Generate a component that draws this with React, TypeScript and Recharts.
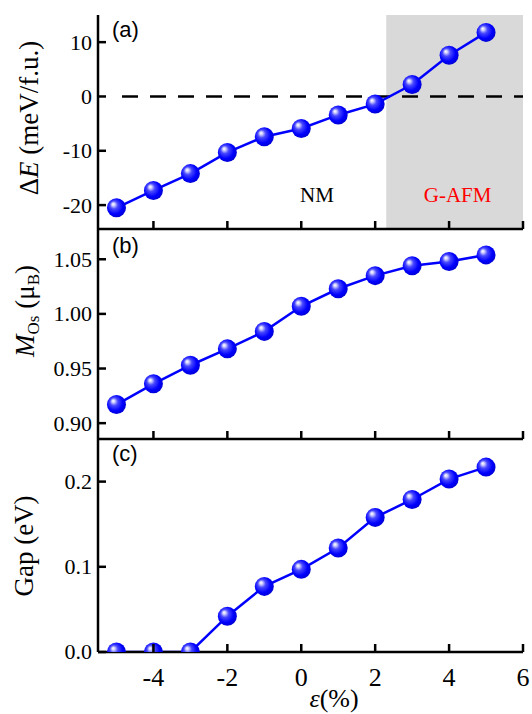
import React from 'react';
import { LineChart, Line, XAxis, YAxis, ReferenceArea, ReferenceLine } from 'recharts';

// ---- data ----
const strain = [-5, -4, -3, -2, -1, 0, 1, 2, 3, 4, 5];
const deltaE = [-20.5, -17.3, -14.2, -10.3, -7.4, -5.9, -3.4, -1.4, 2.2, 7.6, 11.8];
const mOs = [0.917, 0.936, 0.953, 0.968, 0.984, 1.007, 1.023, 1.035, 1.044, 1.048, 1.054];
const gap = [0, 0, 0, 0.042, 0.077, 0.097, 0.122, 0.158, 0.179, 0.203, 0.217];
const xTicks = [-4, -2, 0, 2, 4, 6];
const yTicksA = [-20, -10, 0, 10];
const yTicksB = [0.9, 0.95, 1.0, 1.05];
const yTicksC = [0.0, 0.1, 0.2];
const xDomain = [-5.5, 6];
const yDomainA = [-24.4, 15];
const yDomainB = [0.8855, 1.0777];
const yDomainC = [0, 0.25];
const afmStart = 2.3;
const zeroLineStart = -4.85;

const dataA = strain.map((x, i) => ({ x, v: deltaE[i] }));
const dataB = strain.map((x, i) => ({ x, v: mOs[i] }));
const dataC = strain.map((x, i) => ({ x, v: gap[i] }));

const SERIF = '"Liberation Serif", "Times New Roman", Times, serif';
const SANS = '"Liberation Sans", Arial, Helvetica, sans-serif';
const W = 532;
const LEFT = 98;
const RIGHT_M = 9;
const TICK_LEN = 8;
const Y_GAP = 6;
const SW = 2.5;

const YTick = (props: any) => {
  const { x, y, payload, fmt } = props;
  const edge = x + Y_GAP;
  return (
    <g>
      <line x1={edge} x2={edge + TICK_LEN} y1={y} y2={y} stroke="#000" strokeWidth={SW} />
      <text x={x} y={y} dy="0.34em" textAnchor="end" fontFamily={SERIF} style={{ fontFamily: SERIF }} fontSize={22} fill="#000">
        {fmt(payload.value)}
      </text>
    </g>
  );
};

const XTick = (props: any) => {
  const { x, y, payload, showLabel } = props;
  return (
    <g>
      <line x1={x} x2={x} y1={y} y2={y - TICK_LEN} stroke="#000" strokeWidth={SW} />
      {showLabel ? (
        <text x={x} y={y} dy={34} textAnchor="middle" fontFamily={SERIF} style={{ fontFamily: SERIF }} fontSize={26} fill="#000">
          {payload.value}
        </text>
      ) : null}
    </g>
  );
};

const Ball = (id: string) => (props: any) => {
  const { cx, cy, index } = props;
  if (cx == null || cy == null) return <g key={`n-${index}`} />;
  return <circle key={`d-${index}`} cx={cx} cy={cy} r={9.5} fill={`url(#${id})`} />;
};

const Grad = ({ id }: { id: string }) => (
  <defs>
    <radialGradient id={id} cx="45%" cy="45%" r="60%" fx="32%" fy="30%">
      <stop offset="0" stopColor="#ffffff" />
      <stop offset="0.12" stopColor="#d6d6ff" />
      <stop offset="0.35" stopColor="#4848ff" />
      <stop offset="0.7" stopColor="#0000ff" />
      <stop offset="1" stopColor="#0000cc" />
    </radialGradient>
  </defs>
);

const frameAxes = (yd: number[]) => [
  <XAxis key="tx" xAxisId="top" orientation="top" type="number" domain={xDomain} height={0}
    tick={false} tickLine={false} axisLine={{ stroke: '#000', strokeWidth: SW }} />,
  <YAxis key="ry" yAxisId="r" orientation="right" type="number" domain={yd} width={0}
    tick={false} tickLine={false} axisLine={{ stroke: '#000', strokeWidth: SW }} />,
];

const PanelLabel = ({ y, t }: { y: number; t: string }) => (
  <text x={112} y={y} fontFamily={SANS} style={{ fontFamily: SANS }} fontSize={22} fill="#000">{t}</text>
);

const AfmLabel = (props: any) => {
  const vb = props.viewBox || {};
  return (
    <text x={vb.x + vb.width / 2 + 3} y={vb.y + vb.height - 27} textAnchor="middle"
      fontFamily={SERIF} style={{ fontFamily: SERIF }} fontSize={21} fill="#ff0000">
      G-AFM
    </text>
  );
};

export default function App() {
  return (
    <div style={{ position: 'absolute', left: 0, top: 0, width: W, height: 714, background: '#fff' }}>
      {/* Panel (a) */}
      <div style={{ position: 'absolute', left: 0, top: 0 }}>
        <LineChart width={W} height={240} data={dataA} margin={{ top: 15, right: RIGHT_M, bottom: 0, left: 0 }}>
          <Grad id="ballA" />
          <ReferenceArea x1={afmStart} x2={xDomain[1]} y1={yDomainA[0]} y2={yDomainA[1]} fill="#d9d9d9" fillOpacity={1}
            stroke="none" zIndex={-100} label={<AfmLabel />} />
          <ReferenceLine segment={[{ x: zeroLineStart, y: 0 }, { x: xDomain[1], y: 0 }]} stroke="#000" strokeWidth={SW}
            strokeDasharray="16 12" />
          <XAxis dataKey="x" type="number" domain={xDomain} ticks={xTicks} height={11} tickSize={0} tickMargin={0}
            axisLine={{ stroke: '#000', strokeWidth: SW }} tickLine={false} interval={0}
            tick={(p: any) => <XTick {...p} showLabel={false} />} />
          <YAxis type="number" domain={yDomainA} ticks={yTicksA} width={LEFT} tickSize={0} tickMargin={Y_GAP}
            axisLine={{ stroke: '#000', strokeWidth: SW }} tickLine={false} interval={0}
            tick={(p: any) => <YTick {...p} fmt={(v: number) => String(v)} />} />
          {frameAxes(yDomainA)}
          <Line dataKey="v" type="linear" stroke="#0000ff" strokeWidth={2.5} dot={Ball('ballA')} activeDot={false} isAnimationActive={false} />
          <PanelLabel y={37} t="(a)" />
          <text x={317} y={202} textAnchor="middle" fontFamily={SERIF} style={{ fontFamily: SERIF }} fontSize={21} fill="#000">NM</text>
          <text transform="translate(38,118) rotate(-90)" textAnchor="middle" fontFamily={SERIF} style={{ fontFamily: SERIF }} fontSize={27} fill="#000">
            <tspan>Δ</tspan><tspan fontStyle="italic">E</tspan><tspan> (meV/f.u.)</tspan>
          </text>
        </LineChart>
      </div>
      {/* Panel (b) */}
      <div style={{ position: 'absolute', left: 0, top: 219 }}>
        <LineChart width={W} height={230} data={dataB} margin={{ top: 10, right: RIGHT_M, bottom: 0, left: 0 }}>
          <Grad id="ballB" />
          <XAxis dataKey="x" type="number" domain={xDomain} ticks={xTicks} height={10} tickSize={0} tickMargin={0}
            axisLine={{ stroke: '#000', strokeWidth: SW }} tickLine={false} interval={0}
            tick={(p: any) => <XTick {...p} showLabel={false} />} />
          <YAxis type="number" domain={yDomainB} ticks={yTicksB} width={LEFT} tickSize={0} tickMargin={Y_GAP}
            axisLine={{ stroke: '#000', strokeWidth: SW }} tickLine={false} interval={0}
            tick={(p: any) => <YTick {...p} fmt={(v: number) => v.toFixed(2)} />} />
          {frameAxes(yDomainB)}
          <Line dataKey="v" type="linear" stroke="#0000ff" strokeWidth={2.5} dot={Ball('ballB')} activeDot={false} isAnimationActive={false} />
          <PanelLabel y={34} t="(b)" />
          <text transform="translate(34,92) rotate(-90)" textAnchor="middle" fontFamily={SERIF} style={{ fontFamily: SERIF }} fontSize={27} fill="#000">
            <tspan fontStyle="italic">M</tspan>
            <tspan fontSize={17} dy={5}>Os</tspan>
            <tspan dy={-5}> (μ</tspan>
            <tspan fontSize={17} dy={5}>B</tspan>
            <tspan dy={-5}>)</tspan>
          </text>
        </LineChart>
      </div>
      {/* Panel (c) */}
      <div style={{ position: 'absolute', left: 0, top: 429 }}>
        <LineChart width={W} height={285} data={dataC} margin={{ top: 10, right: RIGHT_M, bottom: 0, left: 0 }}>
          <Grad id="ballC" />
          <XAxis dataKey="x" type="number" domain={xDomain} ticks={xTicks} height={62} tickSize={0} tickMargin={0}
            axisLine={{ stroke: '#000', strokeWidth: SW }} tickLine={false} interval={0}
            tick={(p: any) => <XTick {...p} showLabel={true} />} />
          <YAxis type="number" domain={yDomainC} ticks={yTicksC} width={LEFT} tickSize={0} tickMargin={Y_GAP}
            allowDataOverflow axisLine={{ stroke: '#000', strokeWidth: SW }} tickLine={false} interval={0}
            tick={(p: any) => <YTick {...p} fmt={(v: number) => v.toFixed(1)} />} />
          {frameAxes(yDomainC)}
          <Line dataKey="v" type="linear" stroke="#0000ff" strokeWidth={2.5} dot={Ball('ballC')} activeDot={false} isAnimationActive={false} />
          <PanelLabel y={32} t="(c)" />
          <text transform="translate(33,117) rotate(-90)" textAnchor="middle" fontFamily={SERIF} style={{ fontFamily: SERIF }} fontSize={27} fill="#000">
            Gap (eV)
          </text>
          <text x={334} y={278} textAnchor="middle" fontFamily={SERIF} style={{ fontFamily: SERIF }} fontSize={26} fill="#000">
            <tspan fontStyle="italic">ε</tspan><tspan>(%)</tspan>
          </text>
        </LineChart>
      </div>
    </div>
  );
}
